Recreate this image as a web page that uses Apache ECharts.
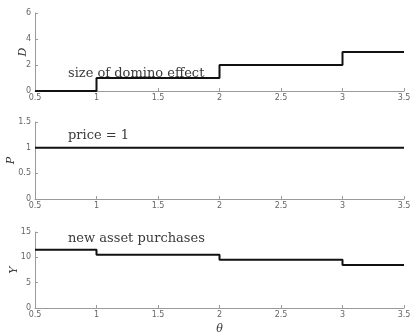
<!DOCTYPE html>
<html>
<head>
<meta charset="utf-8">
<script src="https://cdn.jsdelivr.net/npm/echarts@6/dist/echarts.min.js"></script>
<style>
  html, body { margin: 0; padding: 0; background: #fff; }
  #chart { width: 410px; height: 332px; }
</style>
</head>
<body>
<div id="chart"></div>
<script>
// theta breakpoints, shared by all three panels
const theta = [0.5, 1, 2, 3, 3.5];
// size of domino effect
const domino = [0, 1, 2, 3, 3];
// price
const price = [1, 1, 1, 1, 1];
// new asset purchases
const purchases = [11.5, 10.5, 9.5, 8.5, 8.5];

function pairs(ys) {
  return theta.map((t, i) => [t, ys[i]]);
}

const chart = echarts.init(document.getElementById('chart'), null, { renderer: 'canvas' });

const axisGray = '#9a9a9a';
const labelStyle = { color: '#666', fontSize: 8, fontFamily: 'DejaVu Sans' };

function xAx(gridIndex, name) {
  return {
    type: 'value', gridIndex, min: 0.5, max: 3.5, interval: 0.5,
    axisLine: { lineStyle: { color: axisGray } },
    axisTick: { inside: true, length: 3, lineStyle: { color: axisGray } },
    axisLabel: Object.assign({ margin: 3, formatter: v => String(v) }, labelStyle),
    splitLine: { show: false },
    name: name || '', nameLocation: 'middle', nameGap: 16, nameMoveOverlap: false,
    nameTextStyle: { fontFamily: 'DejaVu Serif', fontStyle: 'italic', fontSize: 11, color: '#333' }
  };
}

function yAx(gridIndex, name, max, interval, gap) {
  return {
    type: 'value', gridIndex, min: 0, max, interval,
    axisLine: { show: true, lineStyle: { color: axisGray } },
    axisTick: { show: true, inside: true, length: 3, lineStyle: { color: axisGray } },
    axisLabel: Object.assign({ margin: 4 }, labelStyle),
    splitLine: { show: false },
    name, nameLocation: 'middle', nameRotate: 90, nameGap: gap, nameMoveOverlap: false,
    nameTextStyle: { fontFamily: 'DejaVu Serif', fontStyle: 'italic', fontSize: 11, color: '#333' }
  };
}

function lineSeries(idx, ys) {
  return {
    type: 'line', xAxisIndex: idx, yAxisIndex: idx,
    data: pairs(ys), step: 'end', showSymbol: false,
    lineStyle: { color: '#111', width: 2 }, animation: false
  };
}

const textStyle = { fill: '#3a3a3a', font: '13px "DejaVu Serif"' };

chart.setOption({
  animation: false,
  grid: [
    { left: 35, right: 6, top: 13, height: 78, outerBoundsMode: 'none', containLabel: false },
    { left: 35, right: 6, top: 122, height: 77, outerBoundsMode: 'none', containLabel: false },
    { left: 35, right: 6, top: 232, height: 76, outerBoundsMode: 'none', containLabel: false }
  ],
  xAxis: [xAx(0), xAx(1), xAx(2, 'θ')],
  yAxis: [
    yAx(0, 'D', 6, 2, 6),
    yAx(1, 'P', 1.5, 0.5, 18),
    yAx(2, 'Y', 15, 5, 15)
  ],
  series: [
    lineSeries(0, domino),
    lineSeries(1, price),
    lineSeries(2, purchases)
  ],
  graphic: [
    { type: 'text', left: 68, top: 67, style: Object.assign({ text: 'size of domino effect' }, textStyle) },
    { type: 'text', left: 68, top: 129, style: Object.assign({ text: 'price = 1' }, textStyle) },
    { type: 'text', left: 68, top: 232, style: Object.assign({ text: 'new asset purchases' }, textStyle) }
  ]
});
</script>
</body>
</html>
